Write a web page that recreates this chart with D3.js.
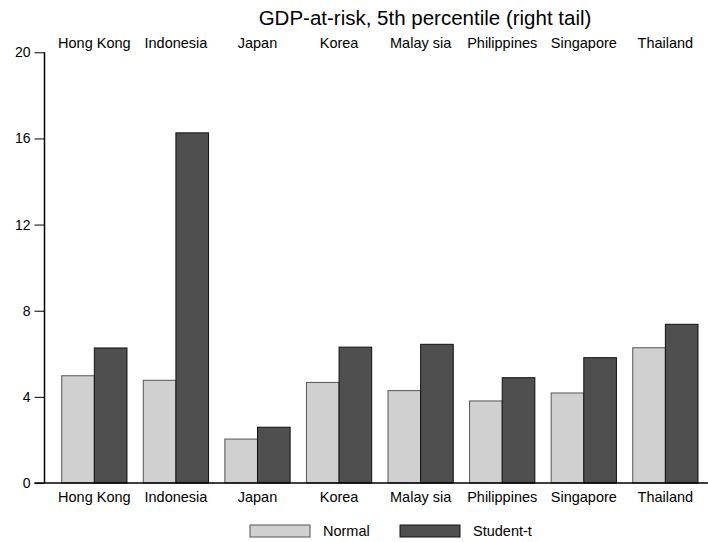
<!DOCTYPE html>
<html>
<head>
<meta charset="utf-8">
<script src="https://cdn.jsdelivr.net/npm/d3@7"></script>
<style>
  body { margin: 0; background: #fff; }
  text { font-family: "Liberation Sans", Arial, sans-serif; fill: #000; }
</style>
</head>
<body>
<div id="chart"></div>
<script>
const countries = ['Hong Kong', 'Indonesia', 'Japan', 'Korea', 'Malay sia', 'Philippines', 'Singapore', 'Thailand'];
const series = ['Normal', 'Student-t'];
const normalValues = [4.98, 4.77, 2.04, 4.67, 4.29, 3.81, 4.18, 6.28];
const studentValues = [6.27, 16.26, 2.59, 6.31, 6.44, 4.89, 5.82, 7.37];
const yTicks = [0, 4, 8, 12, 16, 20];
const colors = ['#d0d0d0', '#4f4f4f'];

const width = 708, height = 542;
const axisX = 44.5, baseY = 483;

const svg = d3.select('#chart').append('svg')
  .attr('width', width)
  .attr('height', height);

const x = d3.scaleBand().domain(countries).range([61.7, 698]).paddingInner(0.2).paddingOuter(0);
const xs = d3.scaleBand().domain(series).range([0, x.bandwidth()]);
const y = d3.scaleLinear().domain([0, 20]).range([baseY, 52.3]);

const rows = countries.map((c, i) => ({ country: c, values: [normalValues[i], studentValues[i]] }));

// bars
const groups = svg.append('g').selectAll('g')
  .data(rows).join('g')
  .attr('transform', d => `translate(${x(d.country)},0)`);

groups.selectAll('rect')
  .data(d => d.values.map((v, k) => ({ key: series[k], value: v, k })))
  .join('rect')
  .attr('x', d => xs(d.key))
  .attr('y', d => y(d.value))
  .attr('width', xs.bandwidth())
  .attr('height', d => baseY - y(d.value))
  .attr('fill', d => colors[d.k])
  .attr('stroke', d => d.k === 0 ? '#555' : '#111')
  .attr('stroke-width', 1);

// y axis
const yAxis = d3.axisLeft(y).tickValues(yTicks).tickSize(10).tickPadding(4);
const yG = svg.append('g')
  .attr('transform', `translate(${axisX},0)`)
  .call(yAxis);
yG.select('.domain').attr('d', `M0,${y(20)}V${baseY}`).attr('stroke', '#000').attr('stroke-width', 1.5);
yG.selectAll('.tick line').attr('stroke', '#000');
yG.selectAll('.tick text').attr('font-size', 14);

// x baseline
svg.append('line')
  .attr('x1', axisX - 10).attr('x2', width)
  .attr('y1', baseY).attr('y2', baseY)
  .attr('stroke', '#000').attr('stroke-width', 1.5);

// category labels, top and bottom
const xBottom = d3.axisBottom(x).tickSize(0).tickPadding(9);
const xb = svg.append('g').attr('transform', `translate(0,${baseY})`).call(xBottom);
xb.select('.domain').remove();
xb.selectAll('.tick text').attr('font-size', 14.5);

const xTop = d3.axisTop(x).tickSize(0).tickPadding(0);
const xt = svg.append('g').attr('transform', `translate(0,47.5)`).call(xTop);
xt.select('.domain').remove();
xt.selectAll('.tick text').attr('font-size', 14.5).attr('dy', 0);

// title
svg.append('text')
  .attr('x', 425).attr('y', 25)
  .attr('text-anchor', 'middle')
  .attr('font-size', 20.5)
  .text('GDP-at-risk, 5th percentile (right tail)');

// legend
const legend = svg.append('g').selectAll('g')
  .data(series).join('g')
  .attr('transform', (d, i) => `translate(${250 + i * 150},525)`);
legend.append('rect')
  .attr('width', 60).attr('height', 12)
  .attr('fill', (d, i) => colors[i])
  .attr('stroke', (d, i) => i === 0 ? '#555' : '#111');
legend.append('text')
  .attr('x', 73).attr('y', 11)
  .attr('font-size', 14.5)
  .text(d => d);
</script>
</body>
</html>
